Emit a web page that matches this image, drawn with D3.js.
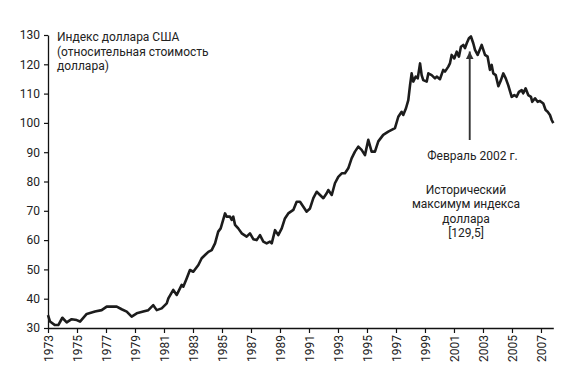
<!DOCTYPE html>
<html><head><meta charset="utf-8">
<script src="https://cdn.jsdelivr.net/npm/d3@7"></script>
<style>body{margin:0;background:#fff}svg{display:block}</style>
</head><body><svg id="c" width="576" height="367"></svg>
<script>
// Dates (fractional years) and index values
const dates = [
1973.00,1973.14,1973.48,1973.71,1973.99,1974.29,1974.63,1974.98,1975.21,1975.67,
1976.24,1976.70,1977.05,1977.74,1978.08,1978.43,1978.77,1979.12,1979.57,1979.92,
1980.26,1980.50,1980.84,1981.19,1981.30,1981.64,1981.88,1982.22,1982.33,1982.57,
1982.79,1983.02,1983.37,1983.60,1983.83,1984.06,1984.29,1984.52,1984.74,1984.91,
1985.21,1985.32,1985.55,1985.67,1985.78,1985.90,1986.12,1986.36,1986.70,1986.93,
1987.16,1987.39,1987.62,1987.85,1988.08,1988.31,1988.43,1988.66,1988.88,1989.12,
1989.34,1989.57,1989.92,1990.15,1990.38,1990.61,1990.84,1991.07,1991.30,1991.53,
1991.76,1991.99,1992.22,1992.33,1992.57,1992.79,1993.02,1993.26,1993.48,1993.71,
1993.94,1994.17,1994.40,1994.63,1994.86,1995.09,1995.32,1995.55,1995.78,1996.12,
1996.47,1996.93,1997.16,1997.39,1997.50,
1997.69,1997.85,1997.97,1998.08,1998.19,1998.36,1998.50,1998.66,1998.77,1998.88,
1999.12,1999.23,1999.46,1999.69,1999.81,2000.03,2000.26,2000.38,2000.61,2000.72,
2000.84,2001.02,2001.19,2001.34,2001.48,2001.64,2001.76,2001.88,2002.03,2002.17,
2002.33,2002.45,2002.63,2002.91,2003.14,2003.32,2003.48,2003.60,2003.71,2003.88,
2004.06,2004.24,2004.40,2004.57,2004.74,2004.98,2005.16,2005.32,2005.48,2005.67,
2005.78,2005.94,2006.12,2006.31,2006.40,2006.59,2006.77,2006.93,2007.16,2007.32,
2007.46,2007.62,2007.74,2007.85];
const values = [
34.4,32.2,31.0,31.0,33.5,31.9,33.0,32.7,32.2,34.8,
35.6,36.1,37.3,37.3,36.4,35.6,33.9,35.0,35.6,36.1,
37.8,36.1,36.7,38.4,40.1,43.0,41.3,44.7,44.1,47.0,
49.8,49.2,51.5,53.8,54.9,56.0,56.6,58.9,62.9,64.0,
69.1,68.0,68.0,66.9,68.0,65.2,64.0,62.3,61.2,62.3,
60.3,60.0,61.7,59.5,58.9,59.5,58.9,63.4,61.7,64.0,
67.4,69.1,70.3,73.1,73.1,71.4,69.7,70.8,74.3,76.5,
75.4,74.3,76.0,77.1,75.4,79.4,81.6,82.8,82.8,84.5,
87.9,90.2,91.9,90.8,89.0,94.2,90.2,90.2,93.7,95.9,
97.0,98.2,102.1,103.8,102.7,
105.0,107.8,112.9,116.9,114.1,115.8,115.2,120.3,116.3,114.6,
114.1,116.9,116.3,115.2,115.8,114.9,118.1,117.5,119.2,120.3,
123.2,122.0,124.3,122.6,126.0,126.6,125.5,127.2,128.9,129.5,
127.2,124.9,123.2,126.6,123.2,122.6,118.1,119.8,116.9,116.3,
112.5,114.6,116.9,115.2,112.9,108.9,109.5,108.9,110.6,111.2,
110.1,111.8,109.5,108.9,107.2,108.4,107.2,107.5,106.6,104.4,
103.8,102.7,101.0,99.9];
const yTicks = [30,40,50,60,70,80,90,100,110,120,130];
const xTicks = [1973,1975,1977,1979,1981,1983,1985,1987,1989,1991,1993,1995,1997,1999,2001,2003,2005,2007];
const titleLines = ["Индекс доллара США","(относительная стоимость","доллара)"];
const peakLabel = "Февраль 2002 г.";
const noteLines = ["Исторический","максимум индекса","доллара","[129,5]"];
const peakDate = 2002.12, peakValue = 129.5;

const svg = d3.select("#c");
const FONT = "Roboto, 'Noto Sans', sans-serif";
const TXT = "#222";
const x = d3.scaleLinear().domain([1973, 2007.85]).range([48, 553.3]);
const y = d3.scaleLinear().domain([30, 130]).range([328, 35]);

// Y axis
const gy = svg.append("g").attr("transform","translate(48,0)")
  .call(d3.axisLeft(y).tickValues(yTicks).tickSize(4).tickPadding(4).tickSizeOuter(0));
gy.select(".domain").attr("stroke","#111").attr("stroke-width",1.3);
gy.selectAll(".tick line").attr("stroke","#111").attr("stroke-width",1.2);
gy.selectAll("text").attr("fill",TXT).style("font-family",FONT).style("font-size","12px");

// X axis
const gx = svg.append("g").attr("transform","translate(0,328)")
  .call(d3.axisBottom(x).tickValues(xTicks).tickFormat(d3.format("d")).tickSize(5).tickSizeOuter(0));
gx.select(".domain").attr("stroke","#111").attr("stroke-width",1.3);
gx.selectAll(".tick line").attr("stroke","#111").attr("stroke-width",1.2);
gx.selectAll("text").attr("fill",TXT).style("font-family",FONT).style("font-size","12px")
  .attr("transform","rotate(-90)").attr("x",-7).attr("y",0).attr("dy","0.35em")
  .style("text-anchor","end");

// Line
const line = d3.line().x((d,i)=>x(dates[i])).y((d,i)=>y(values[i]));
svg.append("path").datum(values).attr("d",line)
  .attr("fill","none").attr("stroke","#1c1c1c").attr("stroke-width",2.6)
  .attr("stroke-linejoin","round");

// Title
svg.append("text").attr("x",57).attr("y",41).attr("fill",TXT)
  .style("font-family",FONT).style("font-size","12px")
  .selectAll("tspan").data(titleLines).join("tspan")
  .attr("x",57).attr("dy",(d,i)=>i?14.5:0).text(d=>d);

// Annotation arrow
const ax = x(peakDate);
svg.append("defs").append("marker").attr("id","ah").attr("viewBox","0 0 10 10")
  .attr("refX",10).attr("refY",5).attr("markerWidth",4).attr("markerHeight",4.5)
  .attr("orient","auto").append("path").attr("d","M0,0L10,5L0,10z").attr("fill","#333");
svg.append("line").attr("x1",ax-0.5).attr("x2",ax-0.5).attr("y1",140).attr("y2",y(peakValue)+15)
  .attr("stroke","#333").attr("stroke-width",1.9).attr("marker-end","url(#ah)");

svg.append("text").attr("x",472.5).attr("y",160).attr("text-anchor","middle").attr("fill",TXT)
  .style("font-family",FONT).style("font-size","12px").text(peakLabel);
svg.append("text").attr("y",194).attr("text-anchor","middle").attr("fill",TXT)
  .style("font-family",FONT).style("font-size","12px")
  .selectAll("tspan").data(noteLines).join("tspan")
  .attr("x",466).attr("dy",(d,i)=>i?14.3:0).text(d=>d);
</script></body></html>
